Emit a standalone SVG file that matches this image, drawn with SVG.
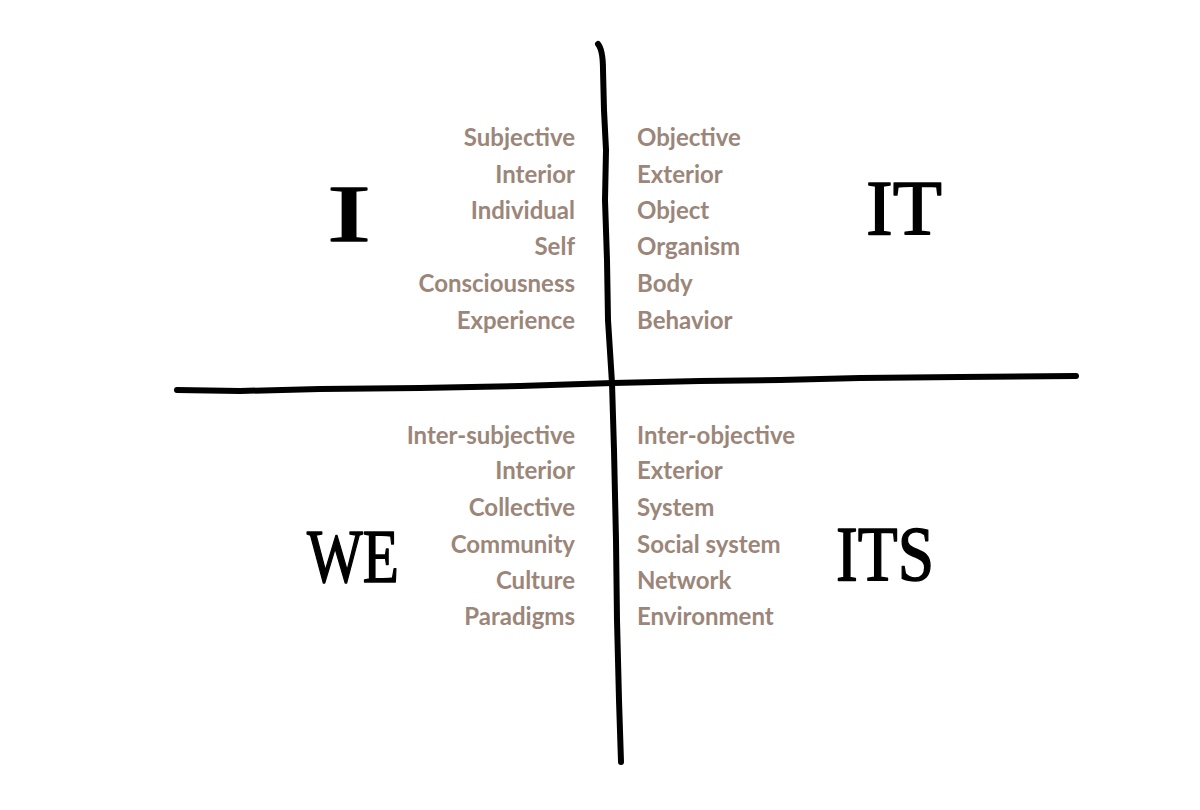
<svg xmlns="http://www.w3.org/2000/svg" width="1200" height="810" viewBox="0 0 1200 810">
<style>
.lbl{font-family:Lato,"Open Sans",sans-serif;font-weight:bold;font-size:24px;fill:#9b8679}
.l{text-anchor:end}
.hand{font-family:"Liberation Serif",serif;fill:#000;stroke:#000;stroke-width:1.5;stroke-linejoin:round}
.axis{fill:none;stroke:#000;stroke-width:6;stroke-linecap:round;stroke-linejoin:round}
</style>
<rect width="1200" height="810" fill="#fff"/>
<g id="axes">
<path class="axis" d="M598,44 Q603,50 603,70 L604,110 L606,150 L605,200 L607,260 L608,320 L612,383 L614,450 L616,540 L617,620 L619,700 L621,762"/>
<path class="axis" d="M177,390 L240,391 L320,389 L420,388 L520,386 L613,383 L700,381 L780,380 L860,378 L960,377 L1076,376"/>
</g>
<g id="quadrant-I">
<text class="hand" x="349" y="241" font-size="80" text-anchor="middle" textLength="44" lengthAdjust="spacingAndGlyphs">I</text>
<text class="lbl l" x="575" y="146">Subjective</text>
<text class="lbl l" x="575" y="183">Interior</text>
<text class="lbl l" x="575" y="219">Individual</text>
<text class="lbl l" x="575" y="255">Self</text>
<text class="lbl l" x="575" y="292">Consciousness</text>
<text class="lbl l" x="575" y="329">Experience</text>
</g>
<g id="quadrant-IT">
<text class="hand" x="904" y="234" font-size="78" text-anchor="middle" textLength="76" lengthAdjust="spacingAndGlyphs">IT</text>
<text class="lbl" x="637" y="146">Objective</text>
<text class="lbl" x="637" y="183">Exterior</text>
<text class="lbl" x="637" y="219">Object</text>
<text class="lbl" x="637" y="255">Organism</text>
<text class="lbl" x="637" y="292">Body</text>
<text class="lbl" x="637" y="329">Behavior</text>
</g>
<g id="quadrant-WE">
<text class="hand" x="353" y="582" font-size="76" text-anchor="middle" textLength="92" lengthAdjust="spacingAndGlyphs">WE</text>
<text class="lbl l" x="575" y="444">Inter-subjective</text>
<text class="lbl l" x="575" y="479">Interior</text>
<text class="lbl l" x="575" y="516">Collective</text>
<text class="lbl l" x="575" y="553">Community</text>
<text class="lbl l" x="575" y="589">Culture</text>
<text class="lbl l" x="575" y="625">Paradigms</text>
</g>
<g id="quadrant-ITS">
<text class="hand" x="885" y="580" font-size="78" text-anchor="middle" textLength="98" lengthAdjust="spacingAndGlyphs">ITS</text>
<text class="lbl" x="637" y="444">Inter-objective</text>
<text class="lbl" x="637" y="479">Exterior</text>
<text class="lbl" x="637" y="516">System</text>
<text class="lbl" x="637" y="553">Social system</text>
<text class="lbl" x="637" y="589">Network</text>
<text class="lbl" x="637" y="625">Environment</text>
</g>
</svg>
